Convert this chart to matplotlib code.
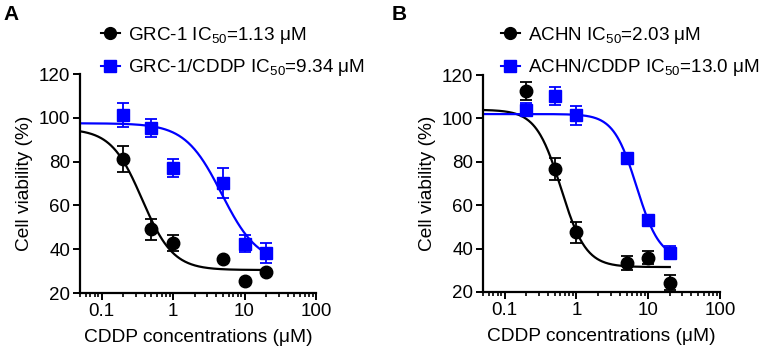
import numpy as np
import matplotlib
matplotlib.use('Agg')
import matplotlib.pyplot as plt
from matplotlib.lines import Line2D
from matplotlib.ticker import LogLocator, NullFormatter, FixedLocator, FixedFormatter

plt.rcParams['font.family'] = ['Liberation Sans', 'DejaVu Sans']
plt.rcParams['mathtext.fontset'] = 'custom'
plt.rcParams['mathtext.rm'] = 'Liberation Sans'
plt.rcParams['mathtext.it'] = 'Liberation Sans'
plt.rcParams['mathtext.bf'] = 'Liberation Sans:bold'

# --------------------------------------------------------------
# Data
# --------------------------------------------------------------
doses = [0.2, 0.5, 1, 5, 10, 20]

grc_mean = [81.2, 49.0, 43.0, 35.5, 25.5, 29.5]
grc_sd = [6.0, 5.0, 3.6, 0.0, 0.0, 0.0]
grc_cddp_mean = [101.3, 95.3, 77.0, 70.2, 42.6, 38.2]
grc_cddp_sd = [5.5, 4.0, 4.0, 7.0, 4.0, 4.7]

achn_mean = [112.6, 76.8, 47.6, 33.4, 35.8, 24.2]
achn_sd = [4.2, 5.0, 4.8, 3.3, 3.0, 3.5]
achn_cddp_mean = [103.9, 110.4, 101.4, 81.7, 53.3, 38.0]
achn_cddp_sd = [3.0, 4.0, 4.4, 0.0, 0.0, 3.0]

# fitted 4PL curves: top, bottom, EC50, hill
grc_fit = (95.0, 30.5, 0.37, 2.0)
grc_cddp_fit = (97.5, 33.0, 4.8, 1.7)
achn_fit = (104.0, 31.5, 0.61, 2.5)
achn_cddp_fit = (102.0, 35.0, 6.9, 2.7)

legend_a = ['GRC-1 IC$_{50}$=1.13 μM', 'GRC-1/CDDP IC$_{50}$=9.34 μM']
legend_b = ['ACHN IC$_{50}$=2.03 μM', 'ACHN/CDDP IC$_{50}$=13.0 μM']

x_ticks = [0.1, 1, 10, 100]
x_tick_labels = ['0.1', '1', '10', '100']
y_ticks = [20, 40, 60, 80, 100, 120]

BLACK = '#000000'
BLUE = '#0000FF'

# --------------------------------------------------------------
# Helpers
# --------------------------------------------------------------

def four_pl(x, top, bottom, ec50, hill):
    return bottom + (top - bottom) / (1 + (x / ec50) ** hill)


def draw_series(ax, mean, sd, fit, color, marker):
    xs = np.logspace(np.log10(0.05), np.log10(20), 300)
    ax.plot(xs, four_pl(xs, *fit), color=color, lw=1.6, zorder=2)
    ax.errorbar(doses, mean, yerr=sd, fmt='none', ecolor=color, elinewidth=1.3,
                capsize=4.5, capthick=1.3, zorder=3)
    ax.plot(doses, mean, ls='none', marker=marker, ms=9 if marker == 'o' else 8.5,
            color=color, zorder=4)


def style_axis(ax):
    ax.set_xscale('log')
    ax.set_xlim(0.05, 100)
    ax.set_ylim(20, 120)
    ax.xaxis.set_major_locator(FixedLocator(x_ticks))
    ax.xaxis.set_major_formatter(FixedFormatter(x_tick_labels))
    ax.xaxis.set_minor_locator(LogLocator(base=10, subs=np.arange(2, 10)))
    ax.xaxis.set_minor_formatter(NullFormatter())
    ax.set_yticks(y_ticks)
    for side in ['top', 'right']:
        ax.spines[side].set_visible(False)
    for side in ['left', 'bottom']:
        ax.spines[side].set_linewidth(1.6)
    ax.tick_params(which='major', length=5, width=1.4, labelsize=13.5, pad=2)
    ax.tick_params(which='minor', length=3, width=1.2)
    ax.set_xlabel('CDDP concentrations (μM)', fontsize=13.8, labelpad=7)
    ax.set_ylabel('Cell viability (%)', fontsize=13.8, labelpad=4)


def add_legend(ax, labels, x_anchor):
    handles = [
        Line2D([], [], color=BLACK, marker='o', ms=8.5, lw=1.5),
        Line2D([], [], color=BLUE, marker='s', ms=8.5, lw=1.5),
    ]
    ax.legend(handles, labels, loc='upper left', bbox_to_anchor=(x_anchor, 0.93),
              bbox_transform=ax.figure.transFigure, frameon=False, fontsize=13.6,
              handlelength=1.0, handletextpad=0.45, labelspacing=0.62, borderpad=0,
              borderaxespad=0)


# --------------------------------------------------------------
# Figure
# --------------------------------------------------------------
fig = plt.figure(figsize=(7.71, 3.5), dpi=100)
ax_a = fig.add_axes([80 / 771, 1 - 293 / 350, 236 / 771, 219 / 350])
ax_b = fig.add_axes([483 / 771, 1 - 292 / 350, 237 / 771, 217 / 350])

draw_series(ax_a, grc_mean, grc_sd, grc_fit, BLACK, 'o')
draw_series(ax_a, grc_cddp_mean, grc_cddp_sd, grc_cddp_fit, BLUE, 's')
draw_series(ax_b, achn_mean, achn_sd, achn_fit, BLACK, 'o')
draw_series(ax_b, achn_cddp_mean, achn_cddp_sd, achn_cddp_fit, BLUE, 's')

for ax in (ax_a, ax_b):
    style_axis(ax)

add_legend(ax_a, legend_a, 101 / 771)
add_legend(ax_b, legend_b, 501 / 771)

fig.text(3 / 771, 1 - 5 / 350, 'A', fontsize=15, fontweight='bold', va='top', ha='left')
fig.text(392 / 771, 1 - 5 / 350, 'B', fontsize=15, fontweight='bold', va='top', ha='left')

fig.savefig('out.png', dpi=100)
